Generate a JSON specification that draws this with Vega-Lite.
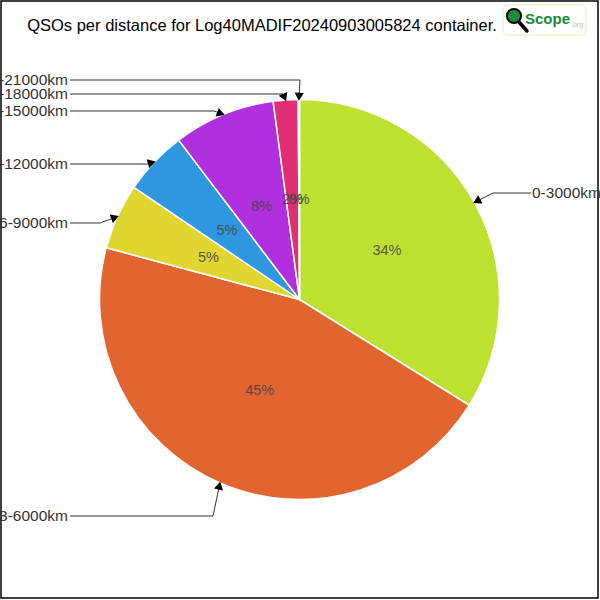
{
  "$schema": "https://vega.github.io/schema/vega-lite/v6.json",
  "width": 597,
  "height": 597,
  "autosize": "none",
  "padding": {"left": 1, "top": 1, "right": 2, "bottom": 2},
  "background": "white",
  "view": {"stroke": "black", "strokeWidth": 1.5},
  "config": {"font": "Liberation Sans"},
  "datasets": {
    "slices": [
      {"range": "0-3000km", "from": 0, "count": 338},
      {"range": "3-6000km", "from": 3000, "count": 452},
      {"range": "6-9000km", "from": 6000, "count": 53},
      {"range": "9-12000km", "from": 9000, "count": 52},
      {"range": "12-15000km", "from": 12000, "count": 82},
      {"range": "15-18000km", "from": 15000, "count": 20},
      {"range": "18-21000km", "from": 18000, "count": 1}
    ],
    "leaders": [
      {"range": "0-3000km", "side": "right", "startX": 531, "labelY": 193, "elbowX": 493},
      {"range": "3-6000km", "side": "left", "startX": 70, "labelY": 516, "elbowX": 213},
      {"range": "6-9000km", "side": "left", "startX": 70, "labelY": 223, "elbowX": 100},
      {"range": "9-12000km", "side": "left", "startX": 70, "labelY": 164, "elbowX": 147},
      {"range": "12-15000km", "side": "left", "startX": 70, "labelY": 111, "elbowX": 214},
      {"range": "15-18000km", "side": "left", "startX": 70, "labelY": 94, "elbowX": 283},
      {"range": "18-21000km", "side": "left", "startX": 70, "labelY": 80, "elbowX": 300}
    ]
  },
  "layer": [
    {
      "data": {"name": "slices"},
      "mark": {"type": "arc", "outerRadius": 200, "stroke": "white", "strokeWidth": 1.5},
      "encoding": {
        "theta": {"field": "count", "type": "quantitative", "stack": true},
        "order": {"field": "from", "type": "quantitative"},
        "color": {
          "field": "range",
          "type": "nominal",
          "scale": {
            "domain": ["0-3000km", "3-6000km", "6-9000km", "9-12000km", "12-15000km", "15-18000km", "18-21000km"],
            "range": ["#BDE12F", "#E2652F", "#E0D62F", "#2F97DF", "#B02FDF", "#E02F72", "#2FDFB8"]
          },
          "legend": null
        }
      }
    },
    {
      "data": {"name": "slices"},
      "transform": [
        {"joinaggregate": [{"op": "sum", "field": "count", "as": "total"}]},
        {"calculate": "round(100*datum.count/datum.total)+'%'", "as": "pct"}
      ],
      "mark": {"type": "text", "radius": 100, "fontSize": 14.5, "fill": "#444444", "opacity": 0.85},
      "encoding": {
        "theta": {"field": "count", "type": "quantitative", "stack": true},
        "order": {"field": "from", "type": "quantitative"},
        "detail": {"field": "range", "type": "nominal"},
        "text": {"field": "pct", "type": "nominal"}
      }
    },
    {
      "data": {"name": "slices"},
      "transform": [
        {"joinaggregate": [{"op": "sum", "field": "count", "as": "total"}]},
        {"stack": "count", "groupby": [], "sort": [{"field": "from", "order": "ascending"}], "as": ["s0", "s1"]},
        {"calculate": "PI*(datum.s0+datum.s1)/datum.total", "as": "mid"},
        {"calculate": "299.5+200*sin(datum.mid)", "as": "tipX"},
        {"calculate": "299.5-200*cos(datum.mid)", "as": "tipY"},
        {"lookup": "range", "from": {"data": {"name": "leaders"}, "key": "range", "fields": ["side", "startX", "labelY", "elbowX"]}},
        {"calculate": "atan2(datum.tipX-datum.elbowX, datum.labelY-datum.tipY)*180/PI", "as": "ang"},
        {"calculate": "datum.tipX-4*sin(datum.ang*PI/180)", "as": "headX"},
        {"calculate": "datum.tipY+4*cos(datum.ang*PI/180)", "as": "headY"}
      ],
      "layer": [
        {
          "mark": {"type": "rule", "color": "#333333", "strokeWidth": 1},
          "encoding": {
            "x": {"field": "startX", "type": "quantitative", "scale": {"domain": [1, 598], "nice": false, "zero": false}, "axis": null},
            "x2": {"field": "elbowX"},
            "y": {"field": "labelY", "type": "quantitative", "scale": {"domain": [1, 598], "reverse": true, "nice": false, "zero": false}, "axis": null}
          }
        },
        {
          "mark": {"type": "rule", "color": "#333333", "strokeWidth": 1},
          "encoding": {
            "x": {"field": "elbowX", "type": "quantitative", "scale": {"domain": [1, 598], "nice": false, "zero": false}, "axis": null},
            "x2": {"field": "tipX"},
            "y": {"field": "labelY", "type": "quantitative", "scale": {"domain": [1, 598], "reverse": true, "nice": false, "zero": false}, "axis": null},
            "y2": {"field": "tipY"}
          }
        },
        {
          "mark": {"type": "point", "shape": "triangle", "filled": true, "color": "black", "size": 85, "opacity": 1},
          "encoding": {
            "x": {"field": "headX", "type": "quantitative", "scale": {"domain": [1, 598], "nice": false, "zero": false}, "axis": null},
            "y": {"field": "headY", "type": "quantitative", "scale": {"domain": [1, 598], "reverse": true, "nice": false, "zero": false}, "axis": null},
            "angle": {"field": "ang", "type": "quantitative", "scale": null}
          }
        },
        {
          "transform": [{"filter": "datum.side == 'left'"}],
          "mark": {"type": "text", "align": "right", "baseline": "middle", "dx": -2, "fontSize": 15.5, "fill": "#333333"},
          "encoding": {
            "x": {"field": "startX", "type": "quantitative", "scale": {"domain": [1, 598], "nice": false, "zero": false}, "axis": null},
            "y": {"field": "labelY", "type": "quantitative", "scale": {"domain": [1, 598], "reverse": true, "nice": false, "zero": false}, "axis": null},
            "text": {"field": "range", "type": "nominal"}
          }
        },
        {
          "transform": [{"filter": "datum.side == 'right'"}],
          "mark": {"type": "text", "align": "left", "baseline": "middle", "dx": 1, "fontSize": 15.5, "fill": "#333333"},
          "encoding": {
            "x": {"field": "startX", "type": "quantitative", "scale": {"domain": [1, 598], "nice": false, "zero": false}, "axis": null},
            "y": {"field": "labelY", "type": "quantitative", "scale": {"domain": [1, 598], "reverse": true, "nice": false, "zero": false}, "axis": null},
            "text": {"field": "range", "type": "nominal"}
          }
        }
      ]
    },
    {
      "data": {"values": [{}]},
      "mark": {"type": "text", "align": "center", "baseline": "middle", "fontSize": 16.5, "fill": "black"},
      "encoding": {
        "x": {"datum": 262, "type": "quantitative", "scale": {"domain": [1, 598], "nice": false, "zero": false}, "axis": null},
        "y": {"datum": 26, "type": "quantitative", "scale": {"domain": [1, 598], "reverse": true, "nice": false, "zero": false}, "axis": null},
        "text": {"value": "QSOs per distance for Log40MADIF20240903005824 container."}
      }
    },
    {
      "data": {"values": [{}]},
      "mark": {"type": "rect", "fill": "white", "stroke": "#E6EEBB", "strokeWidth": 1, "cornerRadius": 5},
      "encoding": {
        "x": {"datum": 503, "type": "quantitative", "scale": {"domain": [1, 598], "nice": false, "zero": false}, "axis": null},
        "x2": {"datum": 586},
        "y": {"datum": 5, "type": "quantitative", "scale": {"domain": [1, 598], "reverse": true, "nice": false, "zero": false}, "axis": null},
        "y2": {"datum": 35}
      }
    },
    {
      "data": {"values": [{}]},
      "mark": {"type": "rule", "color": "black", "strokeWidth": 3.5, "strokeCap": "round"},
      "encoding": {
        "x": {"datum": 519, "type": "quantitative", "scale": {"domain": [1, 598], "nice": false, "zero": false}, "axis": null},
        "x2": {"datum": 527},
        "y": {"datum": 22, "type": "quantitative", "scale": {"domain": [1, 598], "reverse": true, "nice": false, "zero": false}, "axis": null},
        "y2": {"datum": 31}
      }
    },
    {
      "data": {"values": [{}]},
      "mark": {"type": "point", "shape": "circle", "filled": true, "fill": "#1E8C3C", "stroke": "black", "strokeWidth": 2, "size": 200, "opacity": 1},
      "encoding": {
        "x": {"datum": 514, "type": "quantitative", "scale": {"domain": [1, 598], "nice": false, "zero": false}, "axis": null},
        "y": {"datum": 16, "type": "quantitative", "scale": {"domain": [1, 598], "reverse": true, "nice": false, "zero": false}, "axis": null}
      }
    },
    {
      "data": {"values": [{}]},
      "mark": {"type": "text", "align": "left", "baseline": "middle", "fontSize": 15, "fontWeight": "bold", "fill": "#1A8C3C"},
      "encoding": {
        "x": {"datum": 525, "type": "quantitative", "scale": {"domain": [1, 598], "nice": false, "zero": false}, "axis": null},
        "y": {"datum": 19, "type": "quantitative", "scale": {"domain": [1, 598], "reverse": true, "nice": false, "zero": false}, "axis": null},
        "text": {"value": "Scope"}
      }
    },
    {
      "data": {"values": [{}]},
      "mark": {"type": "text", "align": "left", "baseline": "middle", "fontSize": 7, "fill": "#B5CF5A"},
      "encoding": {
        "x": {"datum": 571, "type": "quantitative", "scale": {"domain": [1, 598], "nice": false, "zero": false}, "axis": null},
        "y": {"datum": 25, "type": "quantitative", "scale": {"domain": [1, 598], "reverse": true, "nice": false, "zero": false}, "axis": null},
        "text": {"value": ".org"}
      }
    }
  ]
}
